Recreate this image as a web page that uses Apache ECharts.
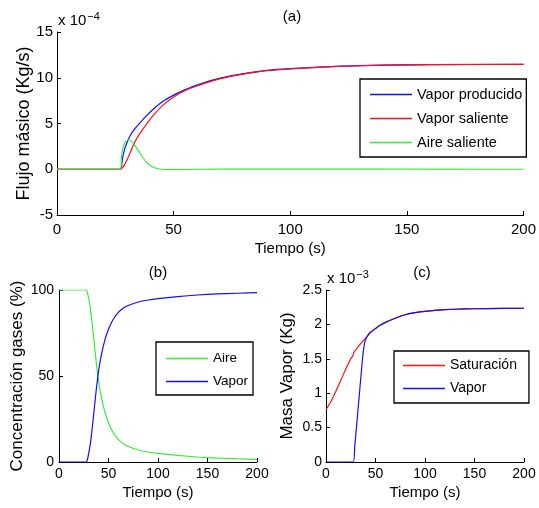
<!DOCTYPE html>
<html>
<head>
<meta charset="utf-8">
<script src="https://cdn.jsdelivr.net/npm/echarts@6/dist/echarts.min.js"></script>
<style>html,body{margin:0;padding:0;background:#fff}#c{width:539px;height:508px}</style>
</head>
<body>
<div id="c"></div>
<script>
// ---- Data (a): flujo másico, units x 10^-4 Kg/s ----
const tA_prod = [0, 27.3, 28, 29, 30, 31, 33, 35, 38, 41, 45, 50, 55, 60, 70, 80, 90, 100, 120, 140, 160, 200];
const vaporProducido = [0, 0, 1.1, 2.2, 2.9, 3.5, 4.3, 4.9, 5.75, 6.5, 7.35, 8.1, 8.7, 9.2, 9.95, 10.45, 10.8, 11.0, 11.25, 11.38, 11.43, 11.47];
const tA_sal = [0, 27.3, 28, 29, 30, 31, 33, 35, 38, 41, 45, 50, 55, 60, 70, 80, 90, 100, 120, 140, 160, 200];
const vaporSaliente = [0, 0, 0.15, 0.5, 1.0, 1.6, 2.8, 3.7, 4.8, 5.8, 6.9, 7.9, 8.6, 9.1, 9.9, 10.4, 10.78, 10.98, 11.24, 11.37, 11.43, 11.47];
const tA_aire = [0, 27.3, 27.6, 28, 28.5, 29, 30, 31, 32, 33, 35, 37, 39, 41, 43, 45, 48, 52, 60, 80, 200];
const aireSaliente = [0, 0, 1.2, 2.0, 2.5, 2.85, 3.15, 3.2, 3.05, 2.75, 2.0, 1.2, 0.6, 0.25, 0.08, 0.0, -0.05, -0.05, 0.0, 0.02, 0.0];

// ---- Data (b): concentración gases (%) ----
const tB = [0, 27.5, 28.5, 30, 32, 34, 36, 38, 40, 42, 45, 48, 52, 56, 60, 65, 70, 80, 90, 100, 120, 140, 160, 180, 200];
const concAire = [100, 100, 99, 95, 88, 78, 67, 56, 47, 40, 32, 26, 20, 16, 13, 10.5, 9, 7, 5.8, 5, 3.8, 2.9, 2.3, 1.9, 1.5];
const concVapor = [0, 0, 1, 5, 12, 22, 33, 44, 53, 60, 68, 74, 80, 84, 87, 89.5, 91, 93, 94.2, 95, 96.2, 97.1, 97.7, 98.1, 98.5];

// ---- Data (c): masa vapor, units x 10^-3 Kg ----
const tC_sat = [0, 5, 10, 15, 20, 25, 27.5, 28, 30, 35, 40, 45, 50, 55, 60, 70, 80, 90, 100, 120, 140, 160, 200];
const saturacion = [0.76, 0.88, 1.03, 1.19, 1.35, 1.5, 1.55, 1.59, 1.63, 1.72, 1.8, 1.88, 1.94, 1.99, 2.03, 2.09, 2.14, 2.17, 2.19, 2.215, 2.225, 2.23, 2.235];
const tC_vap = [0, 27.6, 29, 31, 33, 35, 37, 39, 41, 43, 45, 50, 55, 60, 70, 80, 90, 100, 120, 140, 160, 200];
const masaVapor = [0, 0, 0.22, 0.54, 0.87, 1.2, 1.52, 1.73, 1.81, 1.86, 1.89, 1.94, 1.99, 2.03, 2.09, 2.14, 2.17, 2.19, 2.215, 2.225, 2.23, 2.235];

const xTicks = [0, 50, 100, 150, 200];
const yTicksA = [-5, 0, 5, 10, 15];
const yTicksB = [0, 50, 100];
const yTicksC = [0, 0.5, 1, 1.5, 2, 2.5];

const FONT = "'Liberation Sans', Arial, sans-serif";
const BLUE = '#1010ff', RED = '#ff1010', GREEN = '#35f035';

function pairs(t, v) { return t.map((x, i) => [x, v[i]]); }

function xAxis(gi, fs, margin, gap) {
  return {
    type: 'value', gridIndex: gi, min: xTicks[0], max: xTicks[xTicks.length - 1], interval: 50,
    name: 'Tiempo (s)', nameLocation: 'middle', nameGap: gap, nameMoveOverlap: false,
    nameTextStyle: { fontSize: 15, color: '#000', fontFamily: FONT },
    axisLine: { onZero: false, lineStyle: { color: '#000', width: 1 } },
    axisTick: { inside: true, length: 4, lineStyle: { color: '#000' } },
    axisLabel: { fontSize: fs, color: '#000', fontFamily: FONT, margin: margin },
    splitLine: { show: false }
  };
}
function yAxis(gi, ticks, name, gap, fs, margin, nfs) {
  return {
    type: 'value', gridIndex: gi, min: ticks[0], max: ticks[ticks.length - 1], interval: ticks[1] - ticks[0],
    name: name, nameLocation: 'middle', nameGap: gap, nameMoveOverlap: false,
    nameTextStyle: { fontSize: nfs, color: '#000', fontFamily: FONT },
    axisLine: { show: true, onZero: false, lineStyle: { color: '#000', width: 1 } },
    axisTick: { show: true, inside: true, length: 4, lineStyle: { color: '#000' } },
    axisLabel: { fontSize: fs, color: '#000', fontFamily: FONT, margin: margin },
    splitLine: { show: false }
  };
}
function line(name, t, v, color, gi) {
  return {
    type: 'line', name: name, xAxisIndex: gi, yAxisIndex: gi, data: pairs(t, v),
    symbol: 'none', smooth: 0.12,
    lineStyle: { color: color, width: 1.2 }, itemStyle: { color: color },
    animation: false
  };
}
function legend(names, left, top, pad, fs, gap) {
  return {
    data: names, orient: 'vertical', left: left, top: top,
    backgroundColor: '#fff', borderColor: '#000', borderWidth: 1.3, borderRadius: 0,
    padding: pad, itemGap: gap, itemWidth: 42, itemHeight: 1.6, icon: 'rect',
    textStyle: { fontSize: fs, lineHeight: 17, color: '#000', fontFamily: FONT },
    selectedMode: false
  };
}
const supStyle = { fontSize: 11, fontWeight: 'normal', color: '#000', fontFamily: FONT, verticalAlign: 'top', padding: [0, 0, 9, 1] };
const baseStyle = { fontSize: 15, fontWeight: 'normal', color: '#000', fontFamily: FONT };
const titleStyle = { fontSize: 15, fontWeight: 'normal', color: '#000', fontFamily: FONT };

const option = {
  backgroundColor: '#fff',
  animation: false,
  title: [
    { text: '(a)', left: 292, top: 9, textAlign: 'center', padding: 0, textStyle: titleStyle },
    { text: '(b)', left: 158, top: 265, textAlign: 'center', padding: 0, textStyle: titleStyle },
    { text: '(c)', left: 422, top: 265, textAlign: 'center', padding: 0, textStyle: titleStyle },
    { text: '{b|x 10}{s|−4}', left: 58, top: 11, padding: 0, textStyle: { rich: { b: baseStyle, s: supStyle } } },
    { text: '{b|x 10}{s|−3}', left: 327, top: 269, padding: 0, textStyle: { rich: { b: baseStyle, s: supStyle } } }
  ],
  grid: [
    { left: 57, top: 32, width: 470, height: 183 },
    { left: 59, top: 290, width: 198, height: 172 },
    { left: 326, top: 290, width: 198, height: 172 }
  ],
  xAxis: [xAxis(0, 15, 7, 26), xAxis(1, 14, 5, 23), xAxis(2, 14, 5, 23)],
  yAxis: [
    yAxis(0, yTicksA, 'Flujo másico (Kg/s)', 24, 15, 4, 18),
    yAxis(1, yTicksB, 'Concentración gases (%)', 33, 14, 5, 17),
    yAxis(2, yTicksC, 'Masa Vapor (Kg)', 30, 14, 4, 17)
  ],
  legend: [
    legend(['Vapor producido', 'Vapor saliente', 'Aire saliente'], 360, 79, [7, 4, 6, 10], 14.5, 7),
    legend(['Aire', 'Vapor'], 156, 342, [8, 5, 5, 10], 13.5, 6),
    legend(['Saturación', 'Vapor'], 394, 351, [6, 12, 6, 9], 14, 6)
  ],
  series: [
    line('Vapor producido', tA_prod, vaporProducido, BLUE, 0),
    line('Vapor saliente', tA_sal, vaporSaliente, RED, 0),
    line('Aire saliente', tA_aire, aireSaliente, GREEN, 0),
    line('Aire', tB, concAire, GREEN, 1),
    line('Vapor', tB, concVapor, BLUE, 1),
    line('Saturación', tC_sat, saturacion, RED, 2),
    line('Vapor', tC_vap, masaVapor, BLUE, 2)
  ]
};
const chart = echarts.init(document.getElementById('c'), null, { renderer: 'canvas' });
chart.setOption(option);
</script>
</body>
</html>
